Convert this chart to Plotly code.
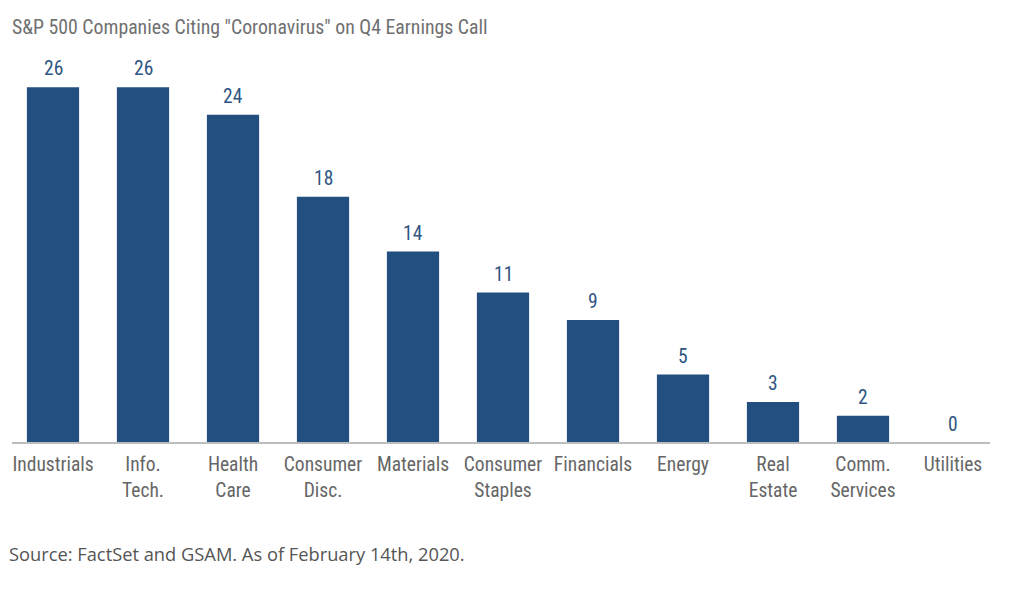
import plotly.graph_objects as go

categories = ["Industrials", "Info.<br>Tech.", "Health<br>Care", "Consumer<br>Disc.", "Materials",
              "Consumer<br>Staples", "Financials", "Energy", "Real<br>Estate", "Comm.<br>Services", "Utilities"]
values = [26, 26, 24, 18, 14, 11, 9, 5, 3, 2, 0]

cond = "Roboto Condensed, Liberation Sans Narrow, Arial Narrow, Roboto, sans-serif"

fig = go.Figure(go.Bar(
    x=categories, y=values,
    marker=dict(color="#224e80", line=dict(width=0)),
    width=0.58,
    hoverinfo="x+y",
))

annotations = [
    dict(x=c, y=v, xref="x", yref="y", text=str(v), showarrow=False,
         yanchor="bottom", yshift=5,
         font=dict(family=cond, size=19.5, color="#2f5583"))
    for c, v in zip(categories, values)
]
annotations += [
    dict(text='S&P 500 Companies Citing "Coronavirus" on Q4 Earnings Call',
         xref="paper", yref="paper", x=0, y=1, xshift=2, yshift=33,
         xanchor="left", yanchor="middle", showarrow=False,
         font=dict(family=cond, size=19.8, color="#707070")),
    dict(text="Source: FactSet and GSAM. As of February 14th, 2020.",
         xref="paper", yref="paper", x=0, y=0, xshift=-1, yshift=-110,
         xanchor="left", yanchor="middle", showarrow=False,
         font=dict(family="Open Sans, Liberation Sans, Arial, sans-serif", size=18.3, color="#555555")),
]

fig.update_layout(
    width=1010, height=591,
    margin=dict(l=0, r=20, t=52, b=156),
    paper_bgcolor="white", plot_bgcolor="white",
    showlegend=False,
    xaxis=dict(showline=False, ticks="outside", ticklen=4, tickcolor="rgba(0,0,0,0)",
               tickfont=dict(family=cond, size=19.5, color="#666666"), fixedrange=True),
    yaxis=dict(range=[0, 28], visible=False, fixedrange=True),
    shapes=[dict(type="line", xref="paper", yref="paper", x0=4 / 990, x1=982 / 990, y0=0, y1=0,
                 line=dict(color="#bdbdbd", width=2), layer="above")],
    annotations=annotations,
)

fig.write_html("out.html")
